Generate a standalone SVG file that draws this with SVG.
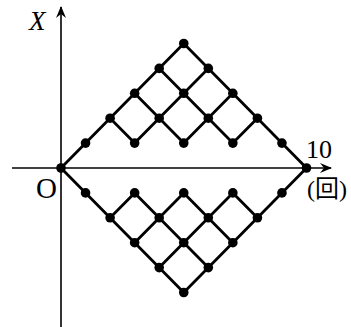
<svg xmlns="http://www.w3.org/2000/svg" width="351" height="327" viewBox="0 0 351 327">
<style>
.ax{stroke:#000;stroke-width:1.6;fill:none}
.e{stroke:#000;stroke-width:2.8;fill:none;stroke-linecap:round}
.d{fill:#000}
.t{font-family:"Liberation Serif","Noto Sans CJK JP",serif;fill:#000}
</style>
<defs>
<marker id="arr" viewBox="0 0 12 10" refX="11" refY="5" markerWidth="12" markerHeight="10" markerUnits="userSpaceOnUse" orient="auto">
<path d="M0,0 L12,5 L0,10 L4,5 Z" fill="#000"/>
</marker>
</defs>
<g id="axes">
<line class="ax" x1="12" y1="168" x2="331" y2="168" marker-end="url(#arr)"/>
<line class="ax" x1="61" y1="327" x2="61" y2="7" marker-end="url(#arr)"/>
</g>
<g id="connectors">
<line class="e" x1="61" y1="168" x2="183.75" y2="43.5"/>
<line class="e" x1="134.65" y1="143.1" x2="208.3" y2="68.4"/>
<line class="e" x1="183.75" y1="143.1" x2="232.85" y2="93.3"/>
<line class="e" x1="232.85" y1="143.1" x2="257.4" y2="118.2"/>
<line class="e" x1="183.75" y1="43.5" x2="306.5" y2="168"/>
<line class="e" x1="159.2" y1="68.4" x2="232.85" y2="143.1"/>
<line class="e" x1="134.65" y1="93.3" x2="183.75" y2="143.1"/>
<line class="e" x1="110.1" y1="118.2" x2="134.65" y2="143.1"/>
<line class="e" x1="61" y1="168" x2="183.75" y2="292.5"/>
<line class="e" x1="134.65" y1="192.9" x2="208.3" y2="267.6"/>
<line class="e" x1="183.75" y1="192.9" x2="232.85" y2="242.7"/>
<line class="e" x1="232.85" y1="192.9" x2="257.4" y2="217.8"/>
<line class="e" x1="183.75" y1="292.5" x2="306.5" y2="168"/>
<line class="e" x1="159.2" y1="267.6" x2="232.85" y2="192.9"/>
<line class="e" x1="134.65" y1="242.7" x2="183.75" y2="192.9"/>
<line class="e" x1="110.1" y1="217.8" x2="134.65" y2="192.9"/>
</g>
<g id="n_0_0"><circle class="d" cx="61" cy="168" r="4.8"/></g>
<g id="n_10_0"><circle class="d" cx="306.5" cy="168" r="4.8"/></g>
<g id="n_1_1"><circle class="d" cx="85.55" cy="143.1" r="4.8"/></g>
<g id="n_3_1"><circle class="d" cx="134.65" cy="143.1" r="4.8"/></g>
<g id="n_5_1"><circle class="d" cx="183.75" cy="143.1" r="4.8"/></g>
<g id="n_7_1"><circle class="d" cx="232.85" cy="143.1" r="4.8"/></g>
<g id="n_9_1"><circle class="d" cx="281.95" cy="143.1" r="4.8"/></g>
<g id="n_2_2"><circle class="d" cx="110.1" cy="118.2" r="4.8"/></g>
<g id="n_4_2"><circle class="d" cx="159.2" cy="118.2" r="4.8"/></g>
<g id="n_6_2"><circle class="d" cx="208.3" cy="118.2" r="4.8"/></g>
<g id="n_8_2"><circle class="d" cx="257.4" cy="118.2" r="4.8"/></g>
<g id="n_3_3"><circle class="d" cx="134.65" cy="93.3" r="4.8"/></g>
<g id="n_5_3"><circle class="d" cx="183.75" cy="93.3" r="4.8"/></g>
<g id="n_7_3"><circle class="d" cx="232.85" cy="93.3" r="4.8"/></g>
<g id="n_4_4"><circle class="d" cx="159.2" cy="68.4" r="4.8"/></g>
<g id="n_6_4"><circle class="d" cx="208.3" cy="68.4" r="4.8"/></g>
<g id="n_5_5"><circle class="d" cx="183.75" cy="43.5" r="4.8"/></g>
<g id="n_1_m1"><circle class="d" cx="85.55" cy="192.9" r="4.8"/></g>
<g id="n_3_m1"><circle class="d" cx="134.65" cy="192.9" r="4.8"/></g>
<g id="n_5_m1"><circle class="d" cx="183.75" cy="192.9" r="4.8"/></g>
<g id="n_7_m1"><circle class="d" cx="232.85" cy="192.9" r="4.8"/></g>
<g id="n_9_m1"><circle class="d" cx="281.95" cy="192.9" r="4.8"/></g>
<g id="n_2_m2"><circle class="d" cx="110.1" cy="217.8" r="4.8"/></g>
<g id="n_4_m2"><circle class="d" cx="159.2" cy="217.8" r="4.8"/></g>
<g id="n_6_m2"><circle class="d" cx="208.3" cy="217.8" r="4.8"/></g>
<g id="n_8_m2"><circle class="d" cx="257.4" cy="217.8" r="4.8"/></g>
<g id="n_3_m3"><circle class="d" cx="134.65" cy="242.7" r="4.8"/></g>
<g id="n_5_m3"><circle class="d" cx="183.75" cy="242.7" r="4.8"/></g>
<g id="n_7_m3"><circle class="d" cx="232.85" cy="242.7" r="4.8"/></g>
<g id="n_4_m4"><circle class="d" cx="159.2" cy="267.6" r="4.8"/></g>
<g id="n_6_m4"><circle class="d" cx="208.3" cy="267.6" r="4.8"/></g>
<g id="n_5_m5"><circle class="d" cx="183.75" cy="292.5" r="4.8"/></g>
<g id="labels">
<text class="t" x="29" y="30" font-size="27" font-style="italic">X</text>
<text class="t" x="36" y="198" font-size="29">O</text>
<text class="t" x="306" y="158" font-size="26">10</text>
<text class="t" x="307" y="197" font-size="24">(回)</text>
</g>
</svg>
